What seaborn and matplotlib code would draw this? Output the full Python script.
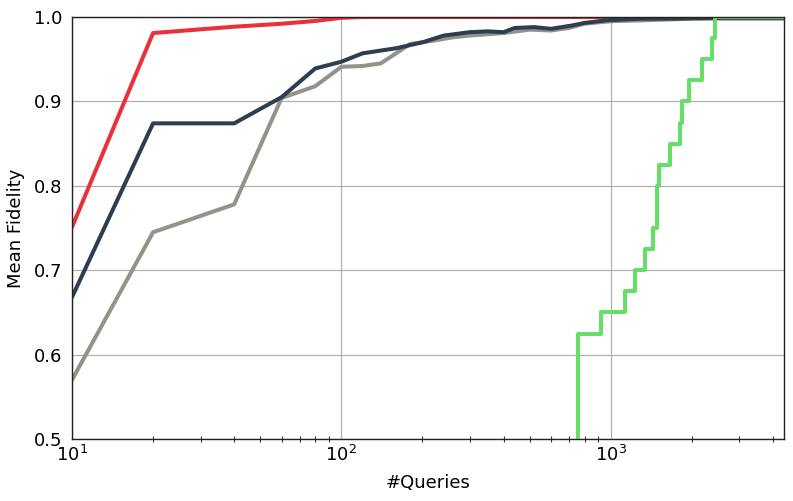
import matplotlib
matplotlib.use("Agg")
import matplotlib.pyplot as plt
import seaborn as sns
import pandas as pd

# ---- data ----
red_x = [10, 20, 40, 60, 80, 100, 120, 200, 400, 1000, 4400]
red_y = [0.751, 0.981, 0.9885, 0.992, 0.9953, 0.999, 1.0, 1.0, 1.0, 1.0, 1.0]

navy_x = [10, 20, 40, 60, 80, 100, 120, 160, 200, 240, 300, 350, 400, 440,
          520, 600, 720, 800, 960, 1100, 1300, 1700, 2500, 4400]
navy_y = [0.668, 0.874, 0.874, 0.905, 0.939, 0.947, 0.957, 0.963, 0.970, 0.978,
          0.982, 0.983, 0.982, 0.987, 0.988, 0.986, 0.990, 0.993, 0.996, 0.997,
          0.998, 0.998, 0.999, 0.999]

gray_x = [10, 20, 40, 60, 80, 100, 120, 140, 180, 220, 260, 300, 400, 500,
          600, 700, 800, 1000, 1300, 2000, 4400]
gray_y = [0.570, 0.745, 0.778, 0.904, 0.918, 0.941, 0.942, 0.945, 0.968, 0.972,
          0.976, 0.978, 0.981, 0.985, 0.984, 0.987, 0.992, 0.995, 0.996, 0.998,
          0.998]

green_x = [10, 755, 923, 1134, 1228, 1338, 1436, 1486, 1486, 1508, 1657, 1805,
           1841, 1954, 2185, 2380, 2449, 4400]
green_y = [0.0, 0.625, 0.65, 0.675, 0.70, 0.725, 0.75, 0.775, 0.80, 0.825, 0.85,
           0.875, 0.90, 0.925, 0.95, 0.975, 1.0, 1.0]

x_label = "#Queries"
y_label = "Mean Fidelity"

colors = {"red": "#e8313b", "navy": "#2d3e50", "gray": "#93938a", "green": "#67de67"}

# ---- plot ----
sns.set_style("white")
plt.rcParams["font.family"] = ["DejaVu Sans"]

fig = plt.figure(figsize=(7.93, 5.01), dpi=100)
ax = fig.add_axes([72 / 793, 1 - 439 / 501, (784 - 72) / 793, (439 - 17) / 501])

lw = 2.9
series = [
    (red_x, red_y, colors["red"], {}),
    (gray_x, gray_y, colors["gray"], {}),
    (navy_x, navy_y, colors["navy"], {}),
    (green_x, green_y, colors["green"], {"drawstyle": "steps-post"}),
]
for xs, ys, c, kw in series:
    df = pd.DataFrame({"x": xs, "y": ys})
    sns.lineplot(data=df, x="x", y="y", ax=ax, color=c, linewidth=lw,
                 estimator=None, sort=False, **kw)

ax.set_xscale("log")
ax.set_xlim(10, 4400)
ax.set_ylim(0.5, 1.0)
ax.set_yticks([0.5, 0.6, 0.7, 0.8, 0.9, 1.0])
ax.set_yticklabels(["0.5", "0.6", "0.7", "0.8", "0.9", "1.0"])

ax.grid(True, which="major", color="#b0b0b0", linewidth=0.9)
ax.set_axisbelow(True)
for s in ax.spines.values():
    s.set_visible(True)
    s.set_color("#222222")
    s.set_linewidth(1.0)

ax.tick_params(axis="both", which="major", direction="inout", length=7,
               width=1.0, labelsize=13, colors="#333333", labelcolor="black")
ax.tick_params(axis="x", which="minor", direction="inout", length=4,
               width=0.8, colors="#333333", bottom=True)
ax.tick_params(axis="x", which="major", pad=1)

ax.set_xlabel(x_label, fontsize=13, labelpad=6, color="black")
ax.set_ylabel(y_label, fontsize=13, labelpad=6, color="black")

fig.savefig("out.png", dpi=100)
